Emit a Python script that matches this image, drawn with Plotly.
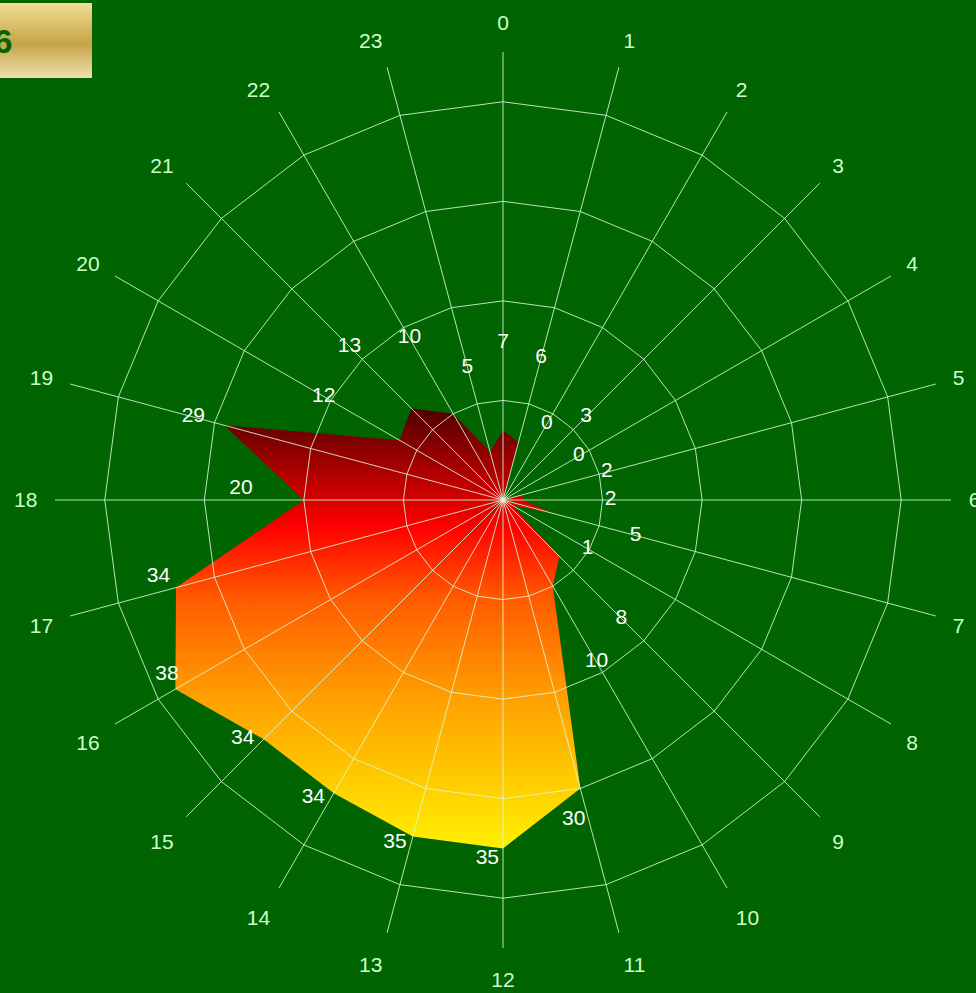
import numpy as np
import plotly.graph_objects as go

# tunnit 0..23 ja arvot
hours = [str(h) for h in range(24)]
values = [7, 6, 0, 3, 0, 2, 2, 5, 1, 8, 10, 30, 35, 35, 34, 34, 38, 34, 20, 29, 12, 13, 10, 5]
box_text = "6"

W, H = 976, 993
cx, cy, R = 503, 500, 448
dom_x = [(cx - R) / W, (cx + R) / W]
dom_y = [(H - cy - R) / H, (H - cy + R) / H]

vals = np.array(values, dtype=float)
deg = np.arange(24) * 15.0
ang = np.deg2rad(deg)
xs = np.append(vals * np.sin(ang), vals[0] * np.sin(ang[0]))
ys = np.append(vals * np.cos(ang), vals[0] * np.cos(ang[0]))

fill = go.Scatter(
    x=xs, y=ys, mode="none", fill="toself",
    fillgradient=dict(type="vertical", colorscale=[
        [0, "#fff000"], [0.34, "#ffa000"], [0.57, "#ff5a00"],
        [0.73, "#ff0000"], [1, "#500000"]]),
    hoverinfo="skip", showlegend=False, xaxis="x", yaxis="y")

# arvotekstit hieman pisteen ulkopuolelle (oma polar2 päällä)
label_r = np.where(vals <= 13, vals + 8.8, 21.8 + (vals - 13) * 0.65)
label_t = deg + np.where((deg > 150) & (deg <= 270), 2.5, 0)
labels = go.Scatterpolar(
    r=label_r, theta=label_t, mode="text", text=[str(v) for v in values],
    textfont=dict(color="white", size=21, family="Liberation Sans"),
    cliponaxis=False, showlegend=False, hoverinfo="skip", subplot="polar2")

# kultainen laatikko (liukuväri)
box = go.Scatter(
    x=[0, 1, 1, 0, 0], y=[0, 0, 1, 1, 0], mode="none", fill="toself",
    fillgradient=dict(type="vertical", colorscale=[
        [0, "#ece0b0"], [0.45, "#c6a446"], [1, "#f0de92"]]),
    hoverinfo="skip", showlegend=False, xaxis="x2", yaxis="y2")

# tyhjä jälki jotta kulma-akselin kategoriat näkyvät
base = go.Scatterpolar(r=[None] * 24, theta=hours, mode="lines", showlegend=False,
                       hoverinfo="skip", subplot="polar")

fig = go.Figure(data=[fill, box, base, labels])

fig.add_annotation(x=14 / W, y=1 - 42 / H, xref="paper", yref="paper", text="<b>" + box_text + "</b>",
                   showarrow=False, xanchor="right", yanchor="middle",
                   font=dict(color="#006400", size=33, family="Liberation Sans"))

grid = "rgba(215,250,215,0.85)"
fig.update_layout(
    width=W, height=H,
    margin=dict(l=0, r=0, t=0, b=0),
    paper_bgcolor="#006400", plot_bgcolor="rgba(0,0,0,0)",
    font=dict(family="Liberation Sans"),
    xaxis=dict(domain=dom_x, range=[-45, 45], visible=False, fixedrange=True),
    yaxis=dict(domain=dom_y, range=[-45, 45], visible=False, fixedrange=True),
    xaxis2=dict(domain=[0, 92 / W], range=[0, 1], visible=False, fixedrange=True),
    yaxis2=dict(domain=[1 - 78 / H, 1 - 3 / H], range=[0, 1], visible=False, fixedrange=True),
    polar=dict(
        domain=dict(x=dom_x, y=dom_y),
        bgcolor="rgba(0,0,0,0)",
        gridshape="linear",
        radialaxis=dict(range=[0, 45], tickvals=[10, 20, 30, 40], showticklabels=False,
                        showline=False, ticks="", gridcolor=grid, gridwidth=1),
        angularaxis=dict(type="category", categoryorder="array", categoryarray=hours, rotation=90,
                         direction="clockwise", showline=False,
                         ticks="outside", ticklen=13, tickcolor="rgba(0,0,0,0)",
                         gridcolor=grid, gridwidth=1,
                         tickfont=dict(color="#ccffcc", size=21, family="Liberation Sans")),
    ),
    polar2=dict(
        domain=dict(x=dom_x, y=dom_y),
        bgcolor="rgba(0,0,0,0)",
        radialaxis=dict(range=[0, 45], visible=False),
        angularaxis=dict(rotation=90, direction="clockwise", visible=False),
    ),
)

fig.write_html("out.html", config={"displayModeBar": False},
               post_script="document.body.style.margin='0';")
